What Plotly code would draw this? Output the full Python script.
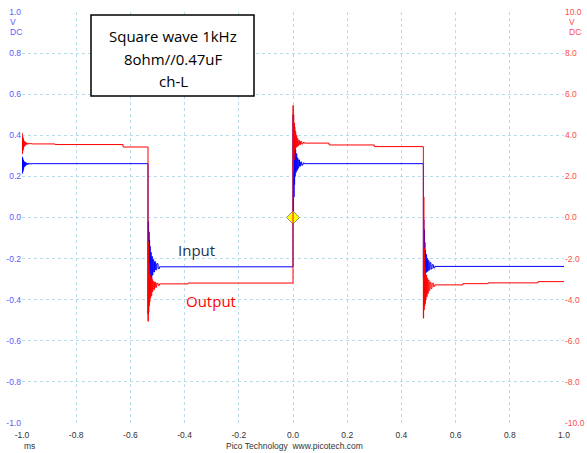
import plotly.graph_objects as go

# ---------------- data (ms, V) ----------------
# edge times (ms): start-of-screen ringing, falling edge, rising edge, falling edge
EDGE_T = [-1.0, -0.535, 0.0, 0.481]
# time offsets (ms) of ringing extremes after each edge
RING_DT = [0.0, 0.001, 0.002, 0.003, 0.004, 0.005, 0.006, 0.007, 0.008, 0.010,
           0.012, 0.014, 0.016, 0.018, 0.021, 0.024, 0.028, 0.032, 0.037, 0.042]

# Input (channel A, V) ringing extremes per edge
IN_RING = [
    [0.295, 0.215, 0.29, 0.225, 0.28, 0.235, 0.275, 0.245, 0.27, 0.25,
     0.268, 0.255, 0.265, 0.258, 0.264, 0.26, 0.263, 0.261, 0.262, 0.262],
    [-0.47, -0.02, -0.43, -0.07, -0.39, -0.11, -0.35, -0.14, -0.32, -0.17,
     -0.30, -0.19, -0.28, -0.205, -0.265, -0.215, -0.255, -0.225, -0.248, -0.24],
    [0.50, 0.03, 0.46, 0.10, 0.40, 0.16, 0.35, 0.20, 0.33, 0.22,
     0.31, 0.23, 0.29, 0.24, 0.28, 0.25, 0.27, 0.255, 0.265, 0.262],
    [-0.29, -0.01, -0.28, -0.06, -0.27, -0.12, -0.27, -0.16, -0.27, -0.18,
     -0.265, -0.20, -0.26, -0.21, -0.255, -0.22, -0.25, -0.23, -0.245, -0.238],
]
IN_STEPS_T = []
IN_STEPS_V = []

# Output (channel B, V, right axis) ringing extremes per edge
OUT_RING = [
    [4.1, 3.1, 3.95, 3.25, 3.85, 3.35, 3.75, 3.45, 3.7, 3.5,
     3.66, 3.55, 3.63, 3.57, 3.61, 3.58, 3.6, 3.59, 3.58, 3.58],
    [-5.05, -1.2, -4.6, -2.3, -4.3, -2.6, -4.1, -2.8, -3.9, -2.9,
     -3.8, -3.0, -3.6, -3.1, -3.5, -3.15, -3.4, -3.2, -3.3, -3.23],
    [5.45, 2.2, 5.0, 2.8, 4.6, 3.1, 4.4, 3.3, 4.2, 3.4,
     4.0, 3.45, 3.85, 3.5, 3.75, 3.55, 3.7, 3.58, 3.65, 3.62],
    [-4.9, 1.0, -4.5, -1.5, -4.3, -2.4, -4.2, -2.7, -4.0, -2.8,
     -3.85, -2.95, -3.7, -3.05, -3.55, -3.15, -3.45, -3.2, -3.35, -3.28],
]
# small level steps (drift) of the output plateaus
OUT_STEPS_T = [-0.878, -0.627, -0.387, 0.133, 0.30, 0.627, 0.72, 0.904]
OUT_STEPS_V = [3.55, 3.43, -3.19, 3.53, 3.45, -3.22, -3.18, -3.12]

X_TICKS = [-1.0, -0.8, -0.6, -0.4, -0.2, 0.0, 0.2, 0.4, 0.6, 0.8, 1.0]
X_LABELS = ["-1.0", "-0.8", "-0.6", "-0.4", "-0.2", "0.0", "0.2", "0.4", "0.6", "0.8", "1.0"]
Y_TICKS = [1.0, 0.8, 0.6, 0.4, 0.2, 0.0, -0.2, -0.4, -0.6, -0.8, -1.0]
Y_LABELS = ["1.0", "0.8", "0.6", "0.4", "0.2", "0.0", "-0.2", "-0.4", "-0.6", "-0.8", "-1.0"]
Y2_TICKS = [10, 8, 6, 4, 2, 0, -2, -4, -6, -8, -10]
Y2_LABELS = ["10.0", "8.0", "6.0", "4.0", "2.0", "0.0", "-2.0", "-4.0", "-6.0", "-8.0", "-10.0"]
TRIGGER = (0.0, 0.0)


def build(rings, steps_t, steps_v):
    pts = []
    for t0, ring in zip(EDGE_T, rings):
        for dt, v in zip(RING_DT, ring):
            pts.append((t0 + dt, v))
    pts += list(zip(steps_t, steps_v))
    pts.sort(key=lambda p: p[0])
    pts.append((1.0, pts[-1][1]))
    return [p[0] for p in pts], [p[1] for p in pts]


in_x, in_y = build(IN_RING, IN_STEPS_T, IN_STEPS_V)
out_x, out_y = build(OUT_RING, OUT_STEPS_T, OUT_STEPS_V)

fig = go.Figure()
fig.add_trace(go.Scatter(x=out_x, y=out_y, mode="lines", line=dict(color="#ff0000", width=1, shape="hv"),
                         yaxis="y2", name="Output", showlegend=False, hoverinfo="skip"))
fig.add_trace(go.Scatter(x=in_x, y=in_y, mode="lines", line=dict(color="#0000ff", width=1, shape="hv"),
                         name="Input", showlegend=False, hoverinfo="skip"))
fig.add_trace(go.Scatter(x=[TRIGGER[0]], y=[TRIGGER[1]], mode="markers",
                         marker=dict(symbol="diamond", size=10, color="#ffff00",
                                     line=dict(color="#8c8c8c", width=1)),
                         showlegend=False, hoverinfo="skip"))

L, R, T, B = 22, 23, 12, 30
W, H = 587, 453
pw, ph = W - L - R, H - T - B


def px(x):
    return (x - L) / pw


def py(y):
    return (H - B - y) / ph


grid = "#b8dce8"
fig.update_layout(
    width=W, height=H, margin=dict(l=L, r=R, t=T, b=B, autoexpand=False),
    paper_bgcolor="white", plot_bgcolor="white",
    font=dict(family="Liberation Sans, Arial, sans-serif", size=8, color="#333333"),
    xaxis=dict(range=[-1, 1], tickvals=X_TICKS, ticktext=X_LABELS, showgrid=True, automargin=False,
               gridcolor=grid, griddash="dot", gridwidth=1, zeroline=False, showline=False,
               ticks="", ticklabelstandoff=5, tickfont=dict(size=8.5, color="#333333")),
    yaxis=dict(range=[-1, 1], tickvals=Y_TICKS, ticktext=Y_LABELS, showgrid=True, automargin=False,
               gridcolor=grid, griddash="dot", gridwidth=1, zeroline=False, showline=False,
               ticks="", tickfont=dict(size=8.5, color="#5a5aff")),
    yaxis2=dict(range=[-10, 10], tickvals=Y2_TICKS, ticktext=Y2_LABELS, overlaying="y", automargin=False,
                side="right", showgrid=False, zeroline=False, showline=False, ticks="",
                tickfont=dict(size=8.5, color="#ff4a4a")),
    shapes=[dict(type="rect", xref="paper", yref="paper", x0=px(91), x1=px(254), y0=py(96), y1=py(15),
                 line=dict(color="black", width=1.5), fillcolor="white", layer="above")],
)

ann = []
box_lines = [("Square wave 1kHz", 36), ("8ohm//0.47uF", 59), ("ch-L", 81)]
for txt, yy in box_lines:
    ann.append(dict(text=txt, xref="paper", yref="paper", x=px(173), y=py(yy), showarrow=False,
                    xanchor="center", yanchor="middle",
                    font=dict(family="Open Sans", size=15, color="black")))
ann.append(dict(text="Input", xref="paper", yref="paper", x=px(196), y=py(250), showarrow=False,
                xanchor="center", yanchor="middle", font=dict(family="Open Sans", size=15, color="#1f3150")))
ann.append(dict(text="Output", xref="paper", yref="paper", x=px(211), y=py(301), showarrow=False,
                xanchor="center", yanchor="middle", font=dict(family="Open Sans", size=15, color="#ff0000")))
for txt, xx, yy, col in [("V", 8, 22, "#5a5aff"), ("DC", 8, 32, "#5a5aff"),
                         ("V", 567, 22, "#ff4a4a"), ("DC", 567, 32, "#ff4a4a")]:
    ann.append(dict(text=txt, xref="paper", yref="paper", x=px(xx), y=py(yy), showarrow=False,
                    xanchor="left", yanchor="middle", font=dict(size=8.5, color=col)))
ann.append(dict(text="ms", xref="paper", yref="paper", x=px(22), y=py(446), showarrow=False,
                xanchor="left", yanchor="middle", font=dict(size=8.5, color="#333333")))
ann.append(dict(text="Pico Technology  www.picotech.com", xref="paper", yref="paper", x=px(294), y=py(446),
                showarrow=False, xanchor="center", yanchor="middle", font=dict(size=8.5, color="#333333")))
fig.update_layout(annotations=ann)

fig.write_html("out.html", config={"displayModeBar": False},
               post_script="document.body.style.margin='0';document.body.style.overflow='hidden';")
